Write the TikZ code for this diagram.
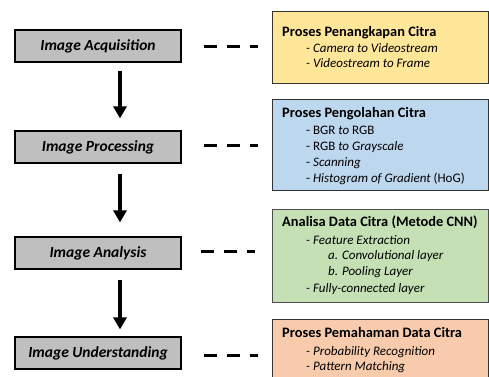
\documentclass[tikz,border=0pt]{standalone}
\usepackage{fontspec}
\setmainfont{Carlito}
\usetikzlibrary{arrows.meta}
\definecolor{stagegray}{HTML}{BFBFBF}
\definecolor{noteyellow}{HTML}{FFE699}
\definecolor{noteblue}{HTML}{BDD7EE}
\definecolor{notegreen}{HTML}{C5E0B4}
\definecolor{noteorange}{HTML}{F8CBAD}
\begin{document}
\begin{tikzpicture}[x=1pt,y=-1pt,
  stage/.style={draw=black,line width=1.2pt,fill=stagegray,minimum width=166pt,
    minimum height=32pt,inner sep=0pt,font=\fontsize{15.5}{17}\selectfont\bfseries\itshape},
  infobox/.style={draw=black!80,line width=1pt,anchor=north west,inner sep=0pt,minimum width=216pt},
  heading/.style={anchor=base west,inner sep=0pt,font=\fontsize{14.4}{16}\selectfont\bfseries},
  item/.style={anchor=base west,inner sep=0pt,font=\fontsize{13}{15}\selectfont},
  flow/.style={-{Triangle[width=13pt,length=12pt]},line width=4pt},
  link/.style={line width=3pt,dash pattern=on 13pt off 10pt}]
\useasboundingbox (0,0) rectangle (489,376);

% processing stages
\node[stage] (acq) at (98,46) {Image Acquisition};
\node[stage] (proc) at (98,147) {Image Processing};
\node[stage] (ana) at (98,253) {Image Analysis};
\node[stage] (und) at (98,353) {Image Understanding};

\draw[flow] ([xshift=22pt,yshift=-8pt]acq.south) -- ([xshift=22pt,yshift=12pt]proc.north);
\draw[flow] ([xshift=22pt,yshift=-10pt]proc.south) -- ([xshift=22pt,yshift=14pt]ana.north);
\draw[flow] ([xshift=22pt,yshift=-10pt]ana.south) -- ([xshift=22pt,yshift=7pt]und.north);

% description boxes
\node[infobox,fill=noteyellow,minimum height=72pt] (yel) at (272,11) {};
\node[infobox,fill=noteblue,minimum height=91pt] (blu) at (272,99) {};
\node[infobox,fill=notegreen,draw=black!70,minimum height=93pt] (grn) at (272,209) {};
\node[infobox,fill=noteorange,minimum height=64pt] (org) at (272,319) {};

% dashed links between stages and descriptions
\draw[link] ([xshift=22pt]acq.east) -- ([xshift=-14pt]acq.east -| yel.west);
\draw[link] ([xshift=22pt,yshift=2pt]proc.east) -- ([xshift=-14pt,yshift=2pt]proc.east -| blu.west);
\draw[link] ([xshift=19pt,yshift=2pt]ana.east) -- ([xshift=-17pt,yshift=2pt]ana.east -| grn.west);
\draw[link] ([xshift=22pt,yshift=-2pt]und.east) -- ([xshift=-14pt,yshift=-2pt]und.east -| org.west);

% texts of the acquisition box
\node[heading] (yt) at (282,36) {Proses Penangkapan Citra};
\node[item] (y1) at (306,52) {\itshape - Camera to Videostream};
\node[item] (y2) at (306,67) {\itshape - Videostream to Frame};

% texts of the processing box
\node[heading] (bt) at (282,117) {Proses Pengolahan Citra};
\node[item] (b1) at (306,134.5) {- BGR \textit{to} RGB};
\node[item] (b2) at (306,150) {- RGB \textit{to Grayscale}};
\node[item] (b3) at (306,166.5) {- \textit{Scanning}};
\node[item] (b4) at (306,182) {- \textit{Histogram of Gradient} (HoG)};

% texts of the analysis box
\node[heading] (gt) at (282,226) {Analisa Data Citra (Metode CNN)};
\node[item] (g1) at (306,244.5) {\itshape - Feature Extraction};
\node[item] (g2) at (328,259.5) {\itshape a. Convolutional layer};
\node[item] (g3) at (328,275.5) {\itshape b. Pooling Layer};
\node[item] (g4) at (306,292) {\itshape - Fully-connected layer};

% texts of the understanding box
\node[heading] (ot) at (282,337) {Proses Pemahaman Data Citra};
\node[item] (o1) at (306,355) {\itshape - Probability Recognition};
\node[item] (o2) at (306,370.5) {\itshape - Pattern Matching};
\end{tikzpicture}
\end{document}
